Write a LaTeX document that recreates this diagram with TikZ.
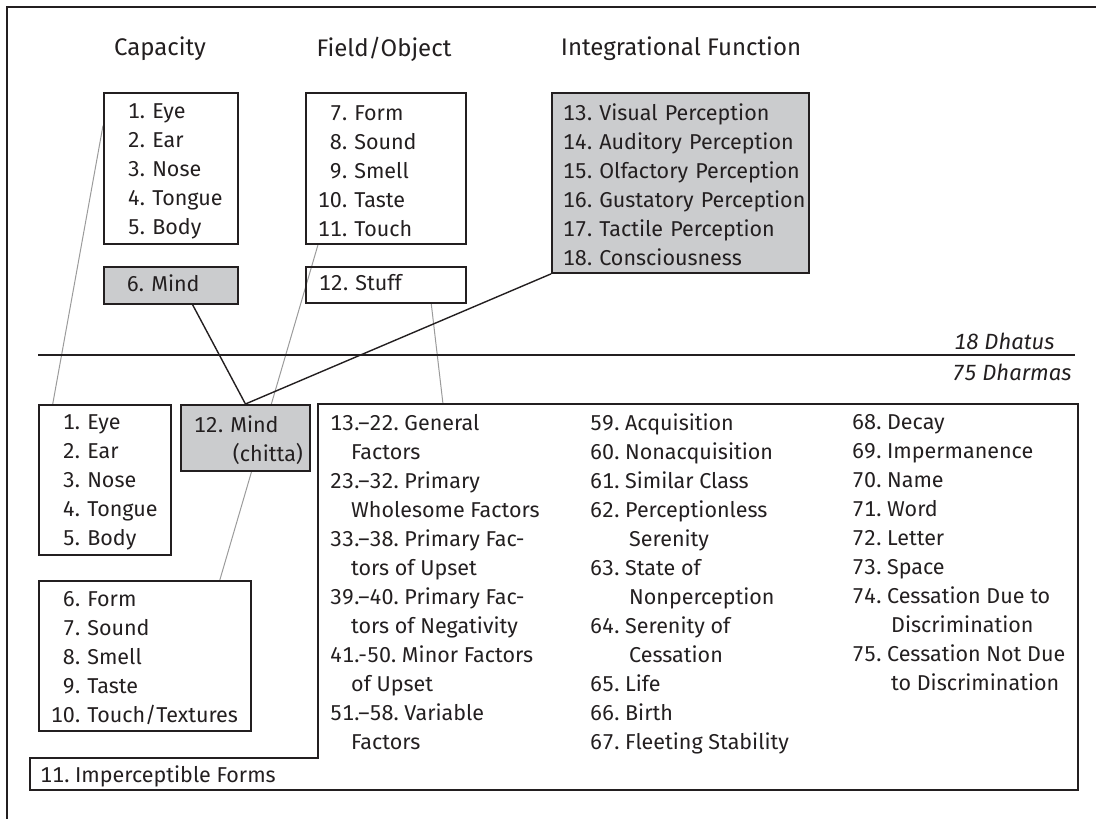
\documentclass[tikz,border=0pt]{standalone}
\usepackage{fontspec}
\setmainfont{Fira Sans}[Numbers={Lining,Monospaced}]
\usetikzlibrary{positioning,calc,backgrounds}
\definecolor{MindGray}{RGB}{203,204,206}
\definecolor{LinkGray}{RGB}{155,155,155}
\definecolor{InkBlack}{RGB}{35,31,32}
\newcommand{\bodyfont}{\fontsize{21.5}{29}\selectfont\hyphenpenalty=10000\exhyphenpenalty=10000}
\newcommand{\headfont}{\fontsize{24}{29}\selectfont}
\newcommand{\levelfont}{\fontsize{22}{29}\selectfont\itshape}
\newcommand{\cont}{\hspace*{39pt}}
\tikzset{
  listbox/.style={draw=InkBlack, line width=1.9pt, anchor=north west, align=left, inner ysep=0pt,
    font=\bodyfont, execute at begin node=\strut},
  graybox/.style={listbox, fill=MindGray},
  column/.style={anchor=north west, align=left, inner sep=0pt, font=\bodyfont},
  head/.style={font=\headfont},
  link/.style={LinkGray, line width=1pt},
  tie/.style={InkBlack, line width=1.4pt},
}

\begin{document}
\begin{tikzpicture}[x=1pt, y=-1pt, every node/.append style={text=InkBlack}]
  \useasboundingbox (0,0) rectangle (1096,819);
  \draw[InkBlack, line width=2.8pt] (7,819) -- (7,7) -- (1096,7);

  % 18 dhatus
  \node[head] (hcap) at (160,49) {Capacity};
  \node[head] (hfield) at (384,49) {Field/Object};
  \node[head] (hinteg) at (681,49) {Integrational Function};

  \node[listbox, text width=86pt, inner xsep=24pt, minimum height=151pt] (sense) at (103,92)
    {1.~Eye\\2.~Ear\\3.~Nose\\4.~Tongue\\5.~Body};
  \node[graybox, text width=88pt, inner xsep=23pt, minimum height=37pt] (mindsix) at (103,266) {6.~Mind};
  \node[listbox, text width=136pt, inner xsep=12pt, minimum height=151pt] (field) at (305,92)
    {\phantom{1}7.~Form\\\phantom{1}8.~Sound\\\phantom{1}9.~Smell\\10.~Taste\\11.~Touch};
  \node[listbox, text width=134pt, inner xsep=13pt, minimum height=36pt] (stuff) at (305,266) {12.~Stuff};
  \node[graybox, text width=235pt, inner xsep=11pt, minimum height=180pt] (integ) at (551,92)
    {13.~Visual~Perception\\14.~Auditory~Perception\\15.~Olfactory~Perception\\
     16.~Gustatory~Perception\\17.~Tactile~Perception\\18.~Consciousness};

  % dividing rule
  \draw[InkBlack, line width=2.8pt] (38,355) -- (1075,355);
  \node[anchor=east, font=\levelfont] (dhatus) at (1058,341) {18 Dhatus};
  \node[anchor=east, font=\levelfont] (dharmas) at (1075,372) {75 Dharmas};

  % 75 dharmas
  \node[listbox, text width=84pt, inner xsep=24pt, minimum height=150pt] (senseL) at (38,404)
    {1.~Eye\\2.~Ear\\3.~Nose\\4.~Tongue\\5.~Body};
  \node[graybox, text width=103pt, inner xsep=13pt, minimum height=66pt] (chitta) at (180,404)
    {12.~Mind\\\hspace*{39pt}(chitta)};
  \node[listbox, text width=188pt, inner xsep=12pt, minimum height=150pt] (fieldL) at (38,580)
    {\phantom{1}6.~Form\\\phantom{1}7.~Sound\\\phantom{1}8.~Smell\\\phantom{1}9.~Taste\\10.~Touch/Textures};

  \draw[InkBlack, line width=1.7pt] (318,404) -- (1078,404) -- (1078,790) -- (30,790) -- (30,758) -- (318,758) -- cycle;
  \coordinate (factors) at (443,404);
  \node[anchor=west, font=\bodyfont, inner sep=0pt] (imperc) at (40,776) {11.~Imperceptible Forms};

  \node[column] (colone) at (330,414)
    {13.--22.~General\\\hspace*{21pt}Factors\\23.--32.~Primary\\\hspace*{21pt}Wholesome Factors\\
     33.--38.~Primary Fac-\\\hspace*{21pt}tors of Upset\\39.--40.~Primary Fac-\\\hspace*{21pt}tors of Negativity\\
     41.-50.~Minor Factors\\\hspace*{21pt}of Upset\\51.--58.~Variable\\\hspace*{21pt}Factors};
  \node[column] (coltwo) at (590,414)
    {59.~Acquisition\\60.~Nonacquisition\\61.~Similar Class\\62.~Perceptionless\\\cont Serenity\\
     63.~State of\\\cont Nonperception\\64.~Serenity of\\\cont Cessation\\65.~Life\\66.~Birth\\67.~Fleeting Stability};
  \node[column] (colthree) at (852,414)
    {68.~Decay\\69.~Impermanence\\70.~Name\\71.~Word\\72.~Letter\\73.~Space\\74.~Cessation Due to\\
     \cont Discrimination\\75.~Cessation Not Due\\\cont to Discrimination};

  % links between the two lists
  \begin{scope}[on background layer]
    \draw[link] ($(sense.north west)!0.22!(sense.south west)$) -- ($(senseL.north west)!0.11!(senseL.north east)$);
    \draw[link] ($(field.south west)!0.08!(field.south east)$) -- ($(fieldL.north west)!0.85!(fieldL.north east)$);
    \draw[link] ($(stuff.south west)!0.78!(stuff.south east)$) -- (factors);
  \end{scope}
  \draw[tie] ($(mindsix.south west)!0.66!(mindsix.south east)$) -- (chitta.north);
  \draw[tie] (integ.south west) -- (chitta.north);
\end{tikzpicture}
\end{document}
